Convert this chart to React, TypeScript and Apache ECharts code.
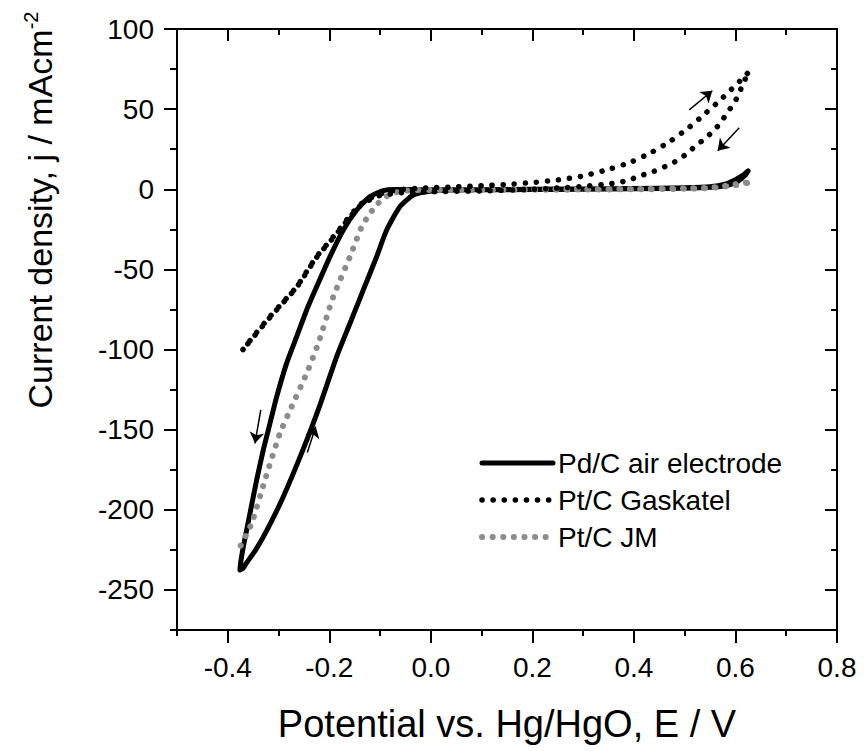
import React, { useEffect, useRef } from "react";
import * as echarts from "echarts";

// ---- Data (E / V, j / mA cm^-2) ----
const pdcNames = "Pd/C air electrode";
const gaskatelName = "Pt/C Gaskatel";
const jmName = "Pt/C JM";

const pdcData: number[][] = [
  [-0.376, -237.5], [-0.37, -236.5], [-0.3627, -233], [-0.345, -225], [-0.3233, -213],
  [-0.2906, -191.8], [-0.2512, -162], [-0.2183, -134.5], [-0.1855, -104.4], [-0.1592, -83.6],
  [-0.133, -62.8], [-0.1067, -42], [-0.087, -25.4], [-0.0607, -10.8], [-0.0345, -3.6],
  [-0.0017, -1.2], [0.05, -0.5], [0.1, -0.3], [0.2, 0], [0.3, 0.2], [0.4, 0.5],
  [0.5, 0.9], [0.55, 1.5], [0.58, 3.2], [0.6, 6], [0.615, 8.8], [0.625, 11.5],
  [0.62, 9], [0.605, 5], [0.585, 2.5], [0.55, 1.2], [0.5, 0.6], [0.4, 0.3], [0.3, 0],
  [0.2, -0.2], [0.1, -0.3], [0.0, -0.3], [-0.04, -0.2], [-0.07, -0.1], [-0.0936, -0.8],
  [-0.1198, -4.6], [-0.146, -12.9], [-0.1724, -25.4], [-0.1986, -42], [-0.2249, -60.8],
  [-0.2446, -75.3], [-0.2643, -92], [-0.284, -108.5], [-0.3036, -129.4], [-0.3168, -146],
  [-0.33, -162.6], [-0.343, -181.3], [-0.3562, -202.1], [-0.3694, -223], [-0.3746, -233],
  [-0.376, -237.5],
];

const gaskatelData: number[][] = [
  [-0.37, -100], [-0.345, -90], [-0.317, -79.5], [-0.29, -70], [-0.264, -60.8],
  [-0.245, -51.5], [-0.225, -42], [-0.205, -34.5], [-0.186, -27.4], [-0.166, -19.2],
  [-0.14, -9.8], [-0.107, -3.6], [-0.067, -0.5], [-0.03, 0.5], [0.0, 1], [0.05, 1.5],
  [0.1, 2.2], [0.15, 3], [0.2, 4.2], [0.25, 5.8], [0.3, 8.3], [0.353, 12.7], [0.396, 17.2],
  [0.435, 23.1], [0.473, 30.3], [0.509, 38.7], [0.543, 48], [0.576, 57.4], [0.609, 67.6],
  [0.627, 73.4],
  [0.615, 66.1], [0.606, 58.8], [0.596, 53.2], [0.583, 47.4], [0.57, 41.2], [0.555, 35.9],
  [0.538, 31.2], [0.52, 26.6], [0.501, 21.4], [0.481, 17.2], [0.461, 14.1], [0.438, 11],
  [0.417, 8.9], [0.396, 6.4], [0.373, 4.4], [0.35, 3.3], [0.3, 1.8], [0.25, 0.8], [0.2, 0],
  [0.1, -1], [0.0, -1.5], [-0.05, -2], [-0.08, -3], [-0.107, -4.5], [-0.14, -10.5],
  [-0.166, -20], [-0.186, -28], [-0.225, -42.5], [-0.264, -61], [-0.317, -80], [-0.37, -100],
];

const jmData: number[][] = [
  [-0.3746, -222.3], [-0.3529, -208.4], [-0.3267, -181.3], [-0.2971, -152.2], [-0.2741, -135.6],
  [-0.2446, -114.8], [-0.2217, -96.1], [-0.1921, -67], [-0.1592, -42], [-0.1362, -23.3],
  [-0.1198, -15], [-0.1067, -9.8], [-0.0936, -5.6], [-0.0739, -2.5], [-0.0542, -0.9],
  [0.0, -0.3], [0.1, -0.2], [0.2, 0], [0.3, 0], [0.4, 0.2], [0.5, 0.5], [0.55, 1],
  [0.5925, 2.7], [0.609, 3.7], [0.632, 4.4],
  [0.6, 2.5], [0.55, 0.8], [0.5, 0.3], [0.4, 0], [0.3, -0.2], [0.2, -0.3], [0.1, -0.4],
  [0.0, -0.5], [-0.04, -0.5],
];

// scan-direction arrows: [start, end] in data coordinates
const pdcArrows: number[][][] = [
  [[-0.335, -137.7], [-0.3464, -158.5]],
  [[-0.2433, -164.3], [-0.2268, -148.1]],
];
const gaskatelArrows: number[][][] = [
  [[0.509, 49.5], [0.5544, 61.5]],
  [[0.6076, 38.4], [0.565, 24.1]],
];

const xMajor = [-0.4, -0.2, 0, 0.2, 0.4, 0.6, 0.8];
const xMinor = [-0.5, -0.3, -0.1, 0.1, 0.3, 0.5, 0.7];
const yMajor = [-250, -200, -150, -100, -50, 0, 50, 100];
const yMinor = [-275, -225, -175, -125, -75, -25, 25, 75];

const xTitle = "Potential vs. Hg/HgO, E / V";
const yTitleMain = "Current density, j / mAcm";
const yTitleSup = "-2";

const FONT = "Liberation Sans, Arial, sans-serif";

function axis(
  dim: "x" | "y",
  position: string,
  ticks: number[],
  len: number,
  inside: boolean,
  showLine: boolean,
  showLabel: boolean
): any {
  const isX = dim === "x";
  return {
    type: "value",
    position,
    min: isX ? -0.5 : -275,
    max: isX ? 0.8 : 100,
    axisLine: { show: showLine, onZero: false, lineStyle: { color: "#000", width: 2 } },
    axisTick: {
      show: true,
      inside,
      length: len,
      customValues: ticks,
      lineStyle: { color: "#000", width: 2 },
    },
    axisLabel: {
      show: showLabel,
      customValues: showLabel ? ticks : undefined,
      formatter: (v: number) => (isX ? v.toFixed(1) : String(Math.round(v))),
      margin: isX ? 23 : 23,
      fontSize: 28,
      color: "#000",
      fontFamily: FONT,
    },
    splitLine: { show: false },
    minorTick: { show: false },
  };
}

function arrowMarks(list: number[][][]) {
  return {
    silent: true,
    symbol: ["none", "arrow"],
    symbolSize: 11,
    label: { show: false },
    lineStyle: { color: "#000", width: 1.5, type: "solid" },
    emphasis: { disabled: true },
    data: list.map((a) => [{ coord: a[0] }, { coord: a[1] }]),
  };
}

export default function App() {
  const ref = useRef<HTMLDivElement>(null);
  useEffect(() => {
    if (!ref.current) return;
    const chart = echarts.init(ref.current, null, { renderer: "svg" });
    chart.setOption({
      animation: false,
      backgroundColor: "#fff",
      grid: { left: 177, top: 29, right: 27, bottom: 121, containLabel: false, outerBoundsMode: "none" },
      xAxis: [
        {
          ...axis("x", "bottom", xMajor, 13, false, true, true),
          name: xTitle,
          nameLocation: "middle",
          nameGap: 75,
          nameTextStyle: { fontSize: 38, color: "#000", fontFamily: FONT },
        },
        axis("x", "bottom", xMinor, 6, false, false, false),
        axis("x", "top", xMajor, 12, true, true, false),
        axis("x", "top", xMinor, 6, true, false, false),
      ],
      yAxis: [
        axis("y", "left", yMajor, 13, false, true, true),
        axis("y", "left", yMinor, 7, false, false, false),
        axis("y", "right", yMajor, 12, true, true, false),
        axis("y", "right", yMinor, 6, true, false, false),
      ],
      legend: {
        orient: "vertical",
        left: 479,
        top: 449,
        padding: 0,
        itemWidth: 71,
        itemHeight: 12,
        itemGap: 9,
        data: [pdcNames, gaskatelName, jmName],
        itemStyle: { opacity: 0, borderWidth: 0 },
        lineStyle: { width: "inherit" },
        textStyle: { fontSize: 28, lineHeight: 28, color: "#000", fontFamily: FONT },
      },
      graphic: [
        {
          type: "text",
          x: 40,
          y: 210,
          rotation: Math.PI / 2,
          style: {
            text: "{a|" + yTitleMain + "}{b|" + yTitleSup + "}",
            align: "center",
            verticalAlign: "middle",
            rich: {
              a: { fontSize: 34, fontFamily: FONT, fill: "#000", lineHeight: 38 },
              b: { fontSize: 20, fontFamily: FONT, fill: "#000", verticalAlign: "top", lineHeight: 38 },
            },
          },
        },
      ],
      series: [
        {
          name: pdcNames,
          type: "line",
          data: pdcData,
          symbol: "none",
          smooth: 0.2,
          color: "#000",
          lineStyle: { color: "#000", width: 5, cap: "round", join: "round" },
          markLine: arrowMarks(pdcArrows),
          z: 2,
        },
        {
          name: jmName,
          type: "line",
          data: jmData,
          symbol: "none",
          smooth: 0.2,
          color: "#8c8c8c",
          lineStyle: { color: "#8c8c8c", width: 6, type: [0.1, 10.5], cap: "round" },
          z: 3,
        },
        {
          name: gaskatelName,
          type: "line",
          data: gaskatelData,
          symbol: "none",
          smooth: 0.2,
          color: "#000",
          lineStyle: { color: "#000", width: 5.5, type: [0.1, 11], cap: "round" },
          markLine: arrowMarks(gaskatelArrows),
          z: 4,
        },
      ],
    });
    return () => chart.dispose();
  }, []);
  return (
    <div
      ref={ref}
      style={{ position: "fixed", left: 0, top: 0, width: 864, height: 751, background: "#fff" }}
    />
  );
}
